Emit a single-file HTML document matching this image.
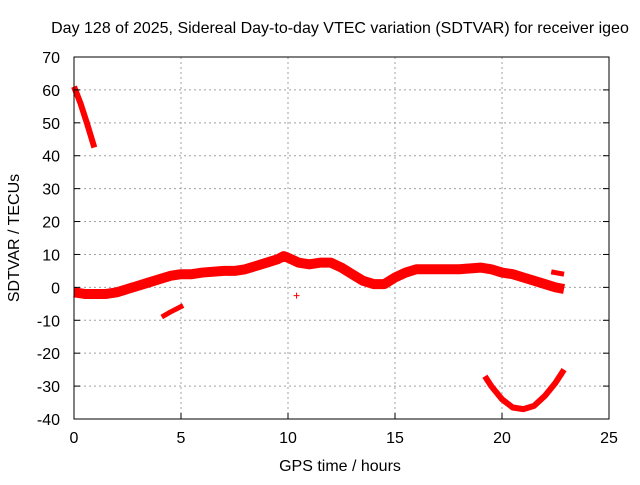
<!DOCTYPE html>
<html><head><meta charset="utf-8"><style>
body{margin:0;background:#fff}
svg{font-family:"Liberation Sans",sans-serif;font-size:16px}
</style></head><body>
<svg width="640" height="480" xmlns="http://www.w3.org/2000/svg">
<rect width="640" height="480" fill="#fff"/>
<text x="340" y="33" text-anchor="middle">Day 128 of 2025, Sidereal Day-to-day VTEC variation (SDTVAR) for receiver igeo</text>
<g id="grid"></g>
<g id="series"></g>
<rect x="74" y="57" width="535" height="362" fill="none" stroke="#000" stroke-width="1"/>
<g id="ticks"></g>
<text x="340" y="471" text-anchor="middle">GPS time / hours</text>
<text transform="translate(19,238) rotate(-90)" text-anchor="middle">SDTVAR / TECUs</text>
</svg>
<script>
const xTicks=[0,5,10,15,20,25];
const yTicks=[70,60,50,40,30,20,10,0,-10,-20,-30,-40];
const mainT=[0,0.5,1,1.5,2,2.5,3,3.5,4,4.5,5,5.5,6,7,7.5,8,8.5,9,9.5,9.8,10,10.5,11,11.5,12,12.5,13,13.5,14,14.5,15,15.5,16,17,18,19,19.5,20,20.5,21,21.5,22,22.5,22.9];
const mainV=[-1.5,-2,-2,-2,-1.5,-0.5,0.5,1.5,2.5,3.5,4,4,4.5,5,5,5.5,6.5,7.5,8.5,9.5,9,7.5,7,7.5,7.5,6,4,2,1,1,3,4.5,5.5,5.5,5.5,6,5.5,4.5,4,3,2,1,0,-0.5];
const seg1T=[0,0.3,0.6,0.95];
const seg1V=[61,56,50,42.5];
const seg2T=[4.1,4.5,5.1];
const seg2V=[-9,-7.5,-5.5];
const seg3T=[19.2,19.5,20,20.5,21,21.5,22,22.5,22.9];
const seg3V=[-27,-30,-34,-36.5,-37,-36,-33,-29,-25];
const seg4T=[22.3,22.9];
const seg4V=[4.7,4];
const ptT=[10.4];
const ptV=[-2.5];
const X=t=>74+t*535/25;
const Y=v=>57+(70-v)*362/110;
const NS="http://www.w3.org/2000/svg";
function mk(tag,parent,attrs){const e=document.createElementNS(NS,tag);for(const k in attrs)e.setAttribute(k,attrs[k]);parent.appendChild(e);return e;}
const grid=document.getElementById('grid'),ticks=document.getElementById('ticks'),ser=document.getElementById('series');
xTicks.forEach(t=>{
 if(t>0&&t<25){const l=mk('line',grid,{x1:X(t),x2:X(t),y1:57,y2:419,stroke:'#a0a0a0','stroke-dasharray':'2,3'});
 
 }
 const tk=mk('line',ticks,{x1:X(t),x2:X(t),y1:419,y2:413,stroke:'#000'});
 
 
 const tx=mk('text',ticks,{x:X(t),y:443,'text-anchor':'middle'});tx.textContent=t;
 
 
});
yTicks.forEach(v=>{
 if(v<70&&v>-40){const l=mk('line',grid,{x1:74,x2:609,y1:Y(v),y2:Y(v),stroke:'#a0a0a0','stroke-dasharray':'2,3'});
 
 }
 const tk=mk('line',ticks,{x1:74,x2:80,y1:Y(v),y2:Y(v),stroke:'#000'});
 
 
 const tk2=mk('line',ticks,{x1:603,x2:609,y1:Y(v),y2:Y(v),stroke:'#000'});
 
 
 const tx=mk('text',ticks,{x:60,y:Y(v)+6,'text-anchor':'end'});tx.textContent=v;
 
 
});
function seg(T,V,w,name){
 const p=mk('polyline',ser,{points:T.map((t,i)=>X(t)+','+Y(V[i])).join(' '),fill:'none',stroke:'#f00','stroke-width':w,'stroke-linejoin':'round','stroke-linecap':'butt'});
 
 
}
seg(mainT,mainV,10,'main-series-band');
seg(seg1T,seg1V,6,'early-descending-segment');
seg(seg2T,seg2V,5,'short-negative-segment');
seg(seg3T,seg3V,6,'late-dip-segment');
seg(seg4T,seg4V,5,'late-short-segment');
ptT.forEach((t,i)=>{
 const p=mk('path',ser,{d:`M${X(t)-3},${Y(ptV[i])}h6M${X(t)},${Y(ptV[i])-3}v6`,stroke:'#f00','stroke-width':1});
 
 
});
</script>
</body></html>
